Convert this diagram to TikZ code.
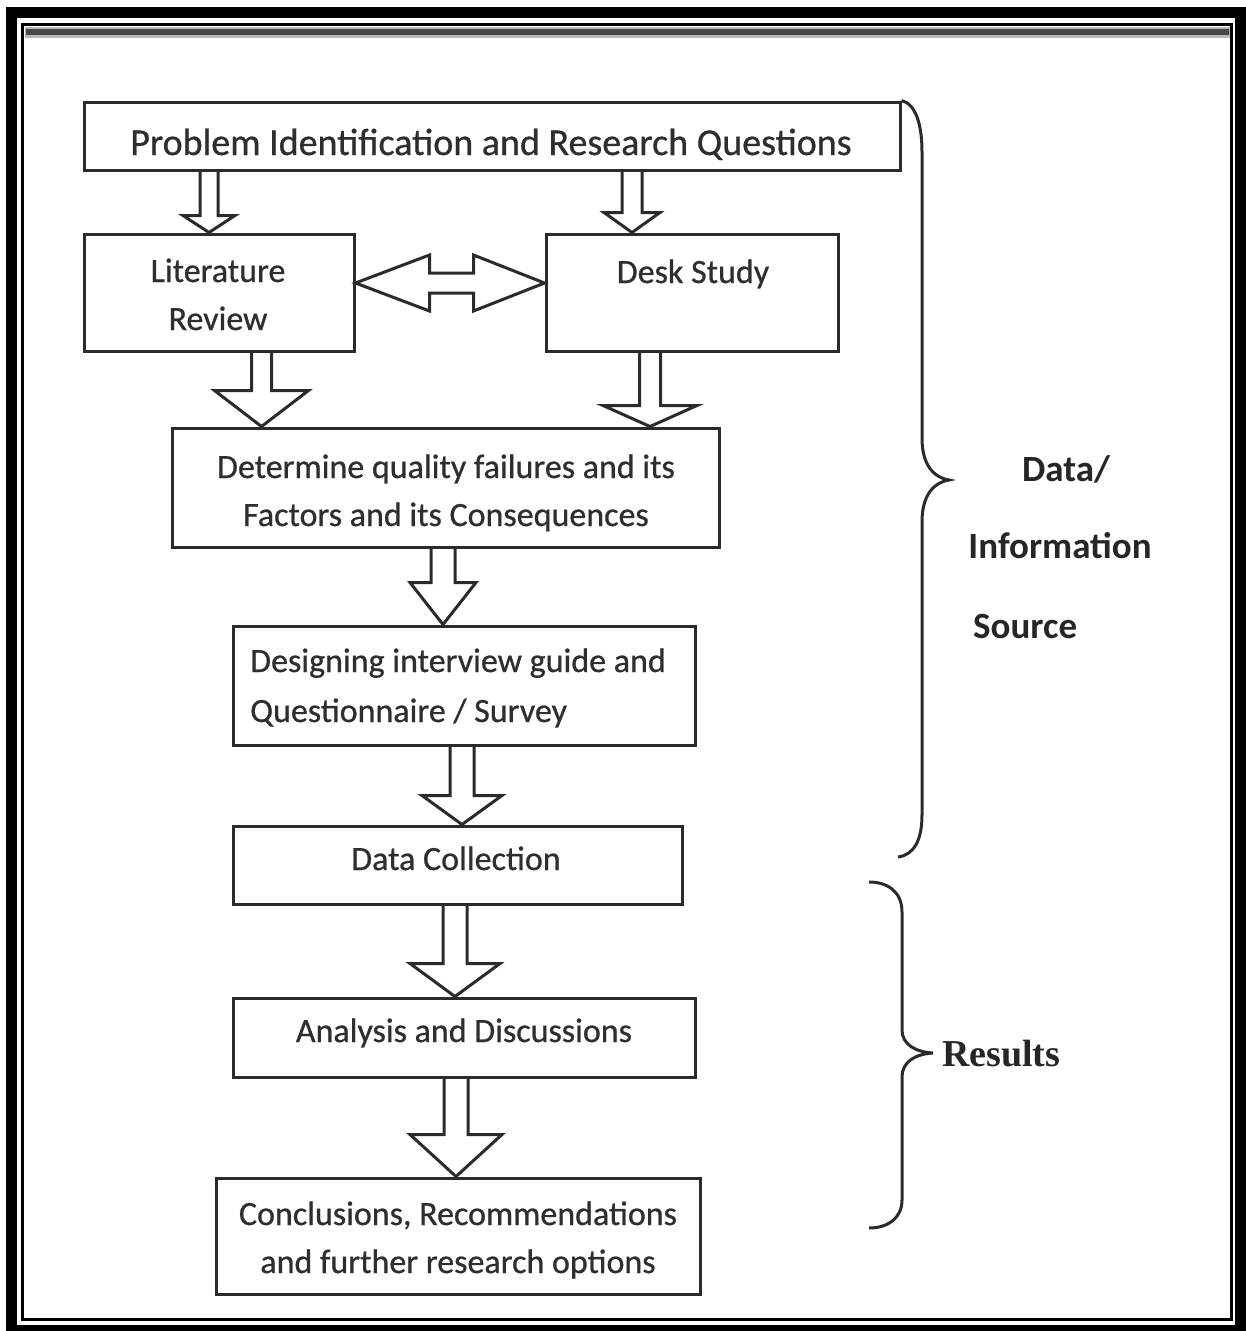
\documentclass[tikz,border=0pt]{standalone}
\usepackage{fontspec}
\setmainfont{Carlito}
\newfontfamily\boxfont{Carlito}[FakeBold=0.7]
\newfontfamily\serifbold{Liberation Serif}
\usetikzlibrary{calc}
\definecolor{ink}{HTML}{2B2B2B}
\definecolor{txt}{HTML}{2E2E2E}
\newcommand\bdown[6]{%
  \draw[barrow] let \p1=(#1.south), \p2=(#2.north) in
   (#3pt-#4pt,\y1) -- (#3pt-#4pt,\y2+#6pt) -- (#3pt-#5pt,\y2+#6pt) -- (#3pt,\y2)
   -- (#3pt+#5pt,\y2+#6pt) -- (#3pt+#4pt,\y2+#6pt) -- (#3pt+#4pt,\y1);}
\begin{document}
\begin{tikzpicture}[x=1pt,y=-1pt,
  box/.style={draw=ink,line width=3pt,rectangle,inner sep=0pt},
  barrow/.style={draw=ink,line width=3pt,line join=miter},
  brace/.style={draw=ink,line width=3pt},
  t/.style={font=\boxfont\fontsize{34}{40}\selectfont,text=txt,inner sep=0pt,anchor=base},
  side/.style={font=\fontsize{37}{44}\selectfont\bfseries,text=black!85,inner sep=0pt,anchor=base}]
\useasboundingbox (0,0) rectangle (1246,1331);
% frame
\draw[line width=11pt] (11.5,12.5) rectangle (1240,1330.5);
\draw[line width=3pt] (22.5,24) rectangle (1231,1319);
\draw[line width=11pt,gray!55] (25,32) -- (1230,32);
\draw[line width=6pt,black!72] (26,32) -- (1229,32);
% boxes
\node[box,minimum width=816pt,minimum height=68pt] (prob) at (492,136) {};
\node[box,minimum width=270pt,minimum height=117pt] (lit) at (219,292.5) {};
\node[box,minimum width=292pt,minimum height=117pt] (desk) at (692,292.5) {};
\node[box,minimum width=547pt,minimum height=119pt] (det) at (445.5,487.5) {};
\node[box,minimum width=462pt,minimum height=119pt] (des) at (464,685.5) {};
\node[box,minimum width=449pt,minimum height=78pt] (dc) at (457.5,865) {};
\node[box,minimum width=462pt,minimum height=79pt] (an) at (464,1037.5) {};
\node[box,minimum width=484pt,minimum height=116pt] (con) at (458,1236) {};
% texts
\node[t,font=\boxfont\fontsize{38}{44}\selectfont] (tprob) at (491,155) {Problem Identification and Research Questions};
\node[t] (tlit1) at (218,282) {Literature};
\node[t] (tlit2) at (218,330) {Review};
\node[t] (tdesk) at (693,283) {Desk Study};
\node[t] (tdet1) at (446,478) {Determine quality failures and its};
\node[t] (tdet2) at (446,526) {Factors and its Consequences};
\node[t,anchor=base west] (tdes1) at (250,672) {Designing interview guide and};
\node[t,anchor=base west] (tdes2) at (250,722) {Questionnaire / Survey};
\node[t] (tdc) at (456,870) {Data Collection};
\node[t] (tan) at (464,1042) {Analysis and Discussions};
\node[t] (tcon1) at (458,1225) {Conclusions, Recommendations};
\node[t] (tcon2) at (458,1273) {and further research options};
% side labels
\node[side] (sdata) at (1066,481) {Data/};
\node[side] (sinfo) at (1060,558) {Information};
\node[side,anchor=base west] (ssrc) at (973,638) {Source};
\node[side,anchor=base west,font=\fontsize{38}{44}\selectfont\serifbold\bfseries] (sres) at (942,1066) {Results};
% block arrows
\bdown{prob}{lit}{209}{9}{26}{17}
\bdown{prob}{desk}{632}{10}{28}{20}
\bdown{lit}{det}{261.5}{10}{47}{36}
\bdown{desk}{det}{650}{10.5}{47}{21}
\bdown{det}{des}{443}{12}{33}{42}
\bdown{des}{dc}{462}{12}{40}{29}
\bdown{dc}{an}{455}{12}{45}{33}
\bdown{an}{con}{456}{12}{46}{42}
% double arrow
\draw[barrow] let \p1=($(lit.east)+(0,-9.5)$), \p2=($(desk.west)+(0,-9.5)$) in
  (\x1,\y1) -- (\x1+74pt,\y1+28pt) -- (\x1+74pt,\y1+10pt) -- (\x2-71pt,\y1+10pt)
  -- (\x2-71pt,\y1+28pt) -- (\x2,\y1) -- (\x2-71pt,\y1-28pt) -- (\x2-71pt,\y1-10pt)
  -- (\x1+74pt,\y1-10pt) -- (\x1+74pt,\y1-28pt) -- cycle;
% braces
\coordinate (b1top) at (prob.north east);
\coordinate (b1tip) at (949,480);
\draw[brace] (b1top) .. controls (916,104) and (922,125) .. (922,152)
  -- (922,438) .. controls (922,463) and (932,477) .. (b1tip)
  .. controls (932,483) and (922,497) .. (922,522)
  -- (922,815) .. controls (922,840) and (914,855) .. (898,857);
\coordinate (b2tip) at (933,1053);
\draw[brace] (869,882) .. controls (888,882) and (902,892) .. (902,912)
  -- (902,1030) .. controls (902,1044) and (915,1052) .. (b2tip)
  .. controls (915,1054) and (902,1062) .. (902,1077)
  -- (902,1200) .. controls (902,1218) and (888,1228) .. (869,1228);
\end{tikzpicture}
\end{document}
